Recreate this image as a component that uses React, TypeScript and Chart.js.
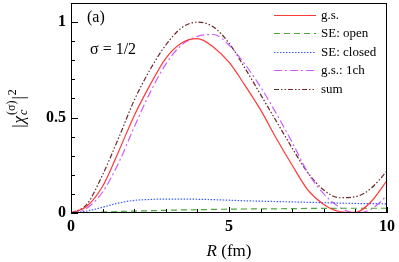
import React, { useEffect, useRef } from "react";
import { Chart, registerables } from "chart.js";

Chart.register(...registerables);

// R (fm) sample grid
const R = [0, 0.5, 1, 1.5, 2, 2.5, 3, 3.5, 4, 4.5, 5, 5.5, 6, 6.5, 7, 7.5, 8, 8.5, 9, 9.5, 10];
// g.s.
const gs = [0, 0.035, 0.14, 0.32, 0.51, 0.67, 0.81, 0.89, 0.913, 0.87, 0.79, 0.67, 0.54, 0.39, 0.25, 0.12, 0.045, 0.008, 0.003, 0.06, 0.17];
// SE: open
const seOpen = [0, 0.002, 0.005, 0.008, 0.01, 0.012, 0.014, 0.016, 0.017, 0.019, 0.02, 0.021, 0.022, 0.022, 0.023, 0.024, 0.024, 0.025, 0.025, 0.025, 0.025];
// SE: closed
const seClosed = [0, 0.01, 0.03, 0.052, 0.066, 0.071, 0.073, 0.073, 0.072, 0.07, 0.067, 0.064, 0.062, 0.06, 0.058, 0.056, 0.054, 0.052, 0.05, 0.049, 0.048];
// g.s.: 1ch
const gs1ch = [0, 0.025, 0.11, 0.26, 0.45, 0.63, 0.78, 0.88, 0.925, 0.935, 0.88, 0.78, 0.66, 0.52, 0.37, 0.21, 0.1, 0.03, 0.0, 0.02, 0.09];
// sum
const sum = [0, 0.045, 0.2, 0.39, 0.59, 0.75, 0.88, 0.97, 1.0, 0.975, 0.89, 0.76, 0.62, 0.48, 0.34, 0.21, 0.12, 0.08, 0.085, 0.13, 0.22];

const seriesLabels = ["g.s.", "SE: open", "SE: closed", "g.s.: 1ch", "sum"];
const xTickLabels = [0, 5, 10];
const yTickLabels = [0, 0.5, 1];

const SERIF = '"Liberation Serif", "Times New Roman", serif';

const styles = [
  { color: "#ff3838", dash: [] as number[] },
  { color: "#4aa83a", dash: [6, 4] },
  { color: "#3a5cff", dash: [1.5, 1.5] },
  { color: "#cc5cff", dash: [8, 3, 2, 3] },
  { color: "#6b2828", dash: [5, 2, 1.5, 2, 1.5, 2] },
];

const decorPlugin = {
  id: "decor",
  afterDraw(chart: any) {
    const ctx = chart.ctx as CanvasRenderingContext2D;
    const { left, right, top, bottom } = chart.chartArea;
    const xs = chart.scales.x;
    const ys = chart.scales.y;
    ctx.save();
    ctx.strokeStyle = "#000";
    ctx.lineWidth = 1;
    ctx.setLineDash([]);
    // frame
    ctx.strokeRect(Math.round(left) + 0.5, Math.round(top) + 0.5, Math.round(right - left) - 1, Math.round(bottom - top) - 1);
    // x ticks inward
    for (let v = 0; v <= 10; v++) {
      const px = Math.round(xs.getPixelForValue(v)) + 0.5;
      const len = xTickLabels.includes(v) ? 6 : 4;
      ctx.beginPath();
      ctx.moveTo(px, bottom);
      ctx.lineTo(px, bottom - len);
      ctx.stroke();
    }
    // y ticks inward
    for (let i = 0; i <= 11; i++) {
      const v = i / 10;
      const py = Math.round(ys.getPixelForValue(v)) + 0.5;
      const major = yTickLabels.some((t) => Math.abs(t - v) < 1e-9);
      const len = major ? 7 : 4;
      ctx.beginPath();
      ctx.moveTo(left, py);
      ctx.lineTo(left + len, py);
      ctx.stroke();
    }
    ctx.fillStyle = "#000";
    // x title
    ctx.textBaseline = "alphabetic";
    ctx.textAlign = "left";
    const cx = (left + right) / 2;
    ctx.font = `italic 17px ${SERIF}`;
    const wR = ctx.measureText("R").width;
    ctx.font = `17px ${SERIF}`;
    const wRest = ctx.measureText(" (fm)").width;
    const sx = cx - (wR + wRest) / 2;
    ctx.font = `italic 17px ${SERIF}`;
    ctx.fillText("R", sx, 256);
    ctx.font = `17px ${SERIF}`;
    ctx.fillText(" (fm)", sx + wR, 256);

    // y title rotated
    ctx.save();
    ctx.translate(24, 108);
    ctx.rotate(-Math.PI / 2);
    const parts: { t: string; f: string; dy: number; adv: boolean }[] = [
      { t: "|", f: `17px ${SERIF}`, dy: 0, adv: true },
      { t: "χ", f: `italic 17px ${SERIF}`, dy: 0, adv: true },
      { t: "c", f: `italic 12px ${SERIF}`, dy: 3, adv: false },
      { t: "(σ)", f: `12px ${SERIF}`, dy: -9, adv: true },
      { t: "|", f: `17px ${SERIF}`, dy: 0, adv: true },
      { t: "2", f: `12px ${SERIF}`, dy: -8, adv: true },
    ];
    let total = 0;
    for (const p of parts) {
      ctx.font = p.f;
      if (p.adv) total += ctx.measureText(p.t).width + 1;
    }
    let px = -total / 2;
    for (const p of parts) {
      ctx.font = p.f;
      ctx.fillText(p.t, px, p.dy);
      if (p.adv) px += ctx.measureText(p.t).width + 1;
    }
    ctx.restore();

    // annotations
    ctx.font = `16px ${SERIF}`;
    ctx.textBaseline = "middle";
    ctx.fillText("(a)", 87, 18);
    ctx.fillText("σ = 1/2", 90, 50);

    // legend
    const rows = [15, 33, 52, 70, 89];
    ctx.font = `13px ${SERIF}`;
    for (let i = 0; i < seriesLabels.length; i++) {
      const y = rows[i] + 0.5;
      ctx.lineWidth = 1.2;
      ctx.strokeStyle = styles[i].color;
      ctx.setLineDash(styles[i].dash.slice());
      ctx.beginPath();
      ctx.moveTo(274, y);
      ctx.lineTo(316, y);
      ctx.stroke();
      ctx.setLineDash([]);
      ctx.fillStyle = "#000";
      ctx.fillText(seriesLabels[i], 321, rows[i] + 1);
    }
    ctx.restore();
  },
};

export default function App() {
  const ref = useRef<HTMLCanvasElement>(null);
  useEffect(() => {
    if (!ref.current) return;
    const all = [gs, seOpen, seClosed, gs1ch, sum];
    const chart = new Chart(ref.current, {
      type: "line",
      data: {
        datasets: all.map((arr, i) => ({
          label: seriesLabels[i],
          data: R.map((r, j) => ({ x: r, y: arr[j] })),
          borderColor: styles[i].color,
          borderDash: styles[i].dash,
          borderWidth: 1.2,
          pointRadius: 0,
          fill: false,
          cubicInterpolationMode: "monotone" as const,
        })),
      },
      options: {
        animation: false,
        responsive: false,
        devicePixelRatio: 1,
        layout: { padding: { top: 3, right: 12, left: 0, bottom: 0 } },
        plugins: { legend: { display: false }, tooltip: { enabled: false } },
        scales: {
          x: {
            type: "linear",
            min: 0,
            max: 10,
            grid: { display: false, drawTicks: false },
            border: { display: false },
            ticks: {
              stepSize: 1,
              autoSkip: false,
              maxRotation: 0,
              padding: 4,
              color: "#000",
              font: { family: SERIF, size: 16, weight: "bold" },
              callback: (v: any) => (xTickLabels.includes(Number(v)) ? String(v) : ""),
            },
            afterFit: (s: any) => {
              s.height = 49;
              s.paddingLeft = 0;
              s.paddingRight = 0;
            },
          },
          y: {
            type: "linear",
            min: 0,
            max: 1.1,
            grid: { display: false, drawTicks: false },
            border: { display: false },
            ticks: {
              stepSize: 0.1,
              autoSkip: false,
              padding: 5,
              color: "#000",
              font: { family: SERIF, size: 16, weight: "bold" },
              callback: (v: any) => {
                const r = Math.round(Number(v) * 10) / 10;
                return yTickLabels.includes(r) ? String(r) : "";
              },
            },
            afterFit: (s: any) => {
              s.width = 71;
              s.paddingTop = 0;
              s.paddingBottom = 0;
            },
          },
        },
      },
      plugins: [decorPlugin],
    });
    return () => chart.destroy();
  }, []);
  return (
    <div style={{ position: "fixed", left: 0, top: 0, width: 399, height: 262, background: "#fff" }}>
      <canvas ref={ref} width={399} height={262} />
    </div>
  );
}
